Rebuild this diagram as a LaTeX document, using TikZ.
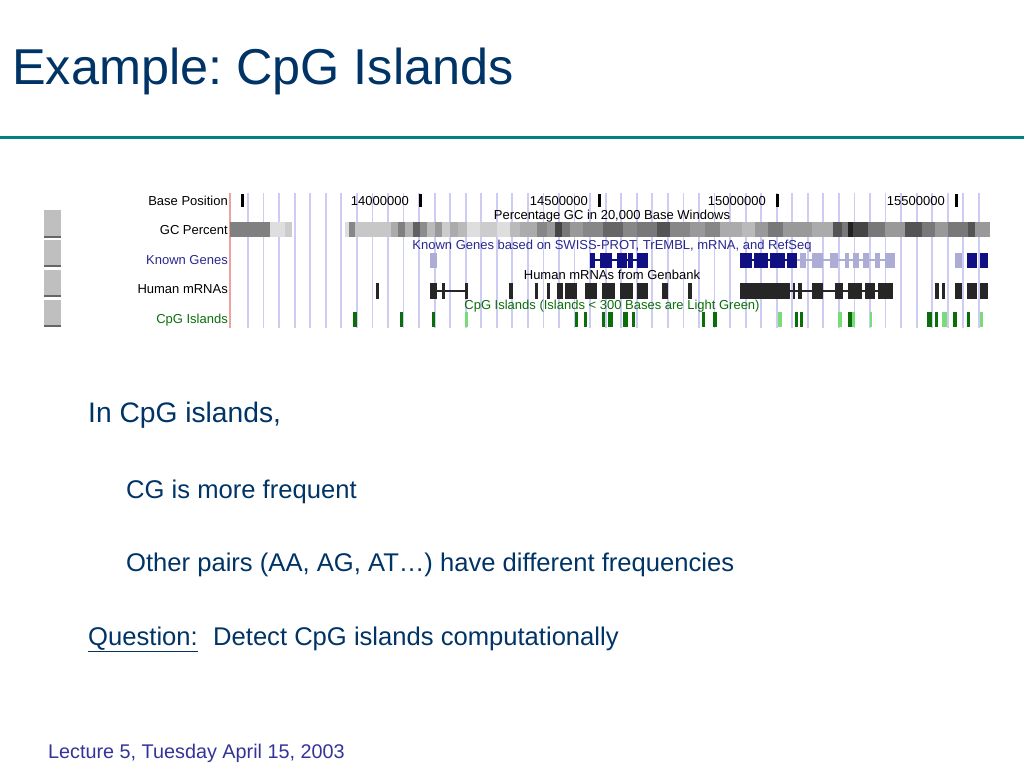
\documentclass[tikz,border=0pt]{standalone}
\usepackage{fontspec}
\setmainfont{Liberation Sans}
\usetikzlibrary{positioning}
\frenchspacing

\definecolor{slidenavy}{RGB}{0,51,102}
\definecolor{ruleteal}{RGB}{0,130,130}
\definecolor{footblue}{RGB}{51,51,153}
\definecolor{gridblue}{RGB}{204,204,244}
\definecolor{redline}{RGB}{240,160,160}
\definecolor{genedark}{RGB}{16,16,130}
\definecolor{genelight}{RGB}{172,172,212}
\definecolor{cpgdark}{RGB}{10,110,10}
\definecolor{cpglight}{RGB}{120,220,120}
\definecolor{knownlab}{RGB}{40,40,140}

\begin{document}
\begin{tikzpicture}[x=1pt,y=-1pt]
\tikzstyle{slidetext} = [inner sep=0pt,anchor=base west,text=slidenavy,font=\fontsize{28.2}{30}\selectfont]
\tikzstyle{subtext} = [slidetext,font=\fontsize{25.6}{27}\selectfont]
\tikzstyle{trk} = [inner sep=0pt,anchor=east,font=\fontsize{13}{13}\selectfont]
\tikzstyle{trkcap} = [inner sep=0pt,font=\fontsize{13}{13}\selectfont]
\tikzstyle{vline} = [draw=gridblue,line width=1.8pt]
\tikzstyle{btn} = [fill=black!25]

\useasboundingbox (0,0) rectangle (1024,768);

% title and rule
\node[inner sep=0pt,anchor=base west,text=slidenavy,font=\fontsize{50.4}{52}\selectfont] (title) at (12,84) {Example: CpG Islands};
\draw[ruleteal,line width=3pt] (0,137) -- (1024,137);

% browser grid
\foreach \k in {0,...,47} {
\draw[vline] (248+15.55*\k,193) -- ++(0,135);
}
\draw[redline,line width=2pt] (230,193) -- (230,328);

% side buttons
\foreach \ya/\yb in {210/238, 240/267, 270/297, 300/327} {
\fill[btn] (44,\ya) rectangle (61,\yb);
\draw[black!60,line width=1.5pt] (44,\yb-1) -- (61,\yb-1);
}

% track labels
\node[trk] (lblbase) at (228,201) {Base Position};
\node[trk] (lblgc) at (228,230) {GC Percent};
\node[trk,text=knownlab] (lblknown) at (228,260) {Known Genes};
\node[trk] (lblmrna) at (228,289) {Human mRNAs};
\node[trk,text=cpgdark] (lblcpg) at (228,320) {CpG Islands};

% base position ticks
\fill (241,194) rectangle (244,207);
\foreach \p/\lbl in {420/14000000, 599/14500000, 777/15000000, 956/15500000} {
\fill (\p-1.5,194) rectangle (\p+1.5,207);
\node[trk] (tick\lbl) at (\p-11,201) {\lbl};
}

% GC percent
\foreach \a/\b/\g in {230/270/50, 270/285/13, 285/292/20,
345/349/13, 349/355/47, 355/391/22, 391/398/33, 398/405/50, 405/413/30,
413/420/62, 420/427/45, 427/435/27, 435/442/40, 442/450/20, 450/458/33,
458/467/27, 467/480/13, 480/497/20, 497/510/13, 510/520/27, 520/537/33,
537/547/47, 547/555/40, 555/562/73, 562/570/53, 570/583/40, 583/603/47,
603/623/60, 623/637/47, 637/657/53, 657/670/67, 670/690/47, 690/705/40,
705/720/47, 720/742/33, 742/755/27, 755/768/40, 768/783/53, 783/812/40,
812/833/33, 833/842/67, 842/848/53, 848/853/87, 853/868/73, 868/885/53,
885/905/40, 905/922/67, 922/935/53, 935/948/40, 948/968/53, 968/975/67,
975/990/40} {
\fill[black!\g] (\a,222) rectangle (\b,237);
}
\node[trkcap] (capgc) at (612,216) {Percentage GC in 20,000 Base Windows};

% known genes
\node[trkcap,text=knownlab] (capknown) at (612,246) {Known Genes based on SWISS-PROT, TrEMBL, mRNA, and RefSeq};
\draw[genedark,line width=1.5pt] (590,260) -- (648,260);
\draw[genedark,line width=1.5pt] (740,260) -- (797,260);
\draw[genelight,line width=1.5pt] (797,260) -- (895,260);
\foreach \a/\b in {430/437, 800/806, 812/823, 830/838, 845/849, 853/859, 863/869, 875/880, 885/895, 955/962} {
\fill[genelight] (\a,253) rectangle (\b,268);
}
\foreach \a/\b in {590/595, 600/612, 617/627, 628/633, 637/648, 740/752, 754/768, 770/785, 787/797, 967/977, 980/988} {
\fill[genedark] (\a,253) rectangle (\b,268);
}

% human mRNAs
\node[trkcap] (capmrna) at (612,275) {Human mRNAs from Genbank};
\draw[black!85,line width=1.5pt] (437,291) -- (467,291);
\draw[black!85,line width=1.5pt] (740,291) -- (893,291);
\foreach \a/\b in {376/379, 430/437, 442/445, 465/468, 509/513, 535/538, 547/550, 557/563, 565/577,
585/597, 602/615, 620/633, 637/648, 662/668, 688/692, 740/790, 793/795, 798/802, 812/823,
835/843, 848/862, 865/875, 878/893, 935/939, 942/945, 955/962, 967/977, 980/988} {
\fill[black!85] (\a,283) rectangle (\b,299);
}

% CpG islands
\node[trkcap,text=cpgdark] (capcpg) at (612,306) {CpG Islands (Islands < 300 Bases are Light Green)};
\foreach \a/\b in {465/468, 778/782, 838/842, 852/855, 870/872, 942/947, 980/983} {
\fill[cpglight] (\a,312) rectangle (\b,327);
}
\foreach \a/\b in {353/357, 400/403, 432/435, 575/578, 584/587, 602/605, 608/613, 623/628,
632/635, 702/705, 713/717, 795/798, 800/803, 848/852, 927/932, 935/938, 953/957, 967/970} {
\fill[cpgdark] (\a,312) rectangle (\b,327);
}

% bullets
\node[slidetext] (inislands) at (88,422) {In CpG islands,};
\node[subtext] (cgfreq) at (126,498) {CG is more frequent};
\node[subtext] (otherpairs) at (126,571) {Other pairs (AA, AG, AT…) have different frequencies};
\node[subtext] (question) at (88,645) {\underline{Question:}};
\node[subtext,anchor=base west] (detect) at ([xshift=15pt]question.base east) {Detect CpG islands computationally};

% footer
\node[inner sep=0pt,anchor=base west,text=footblue,font=\fontsize{19.8}{22}\selectfont] (footer) at (48,758) {Lecture 5, Tuesday April 15, 2003};

\end{tikzpicture}
\end{document}
